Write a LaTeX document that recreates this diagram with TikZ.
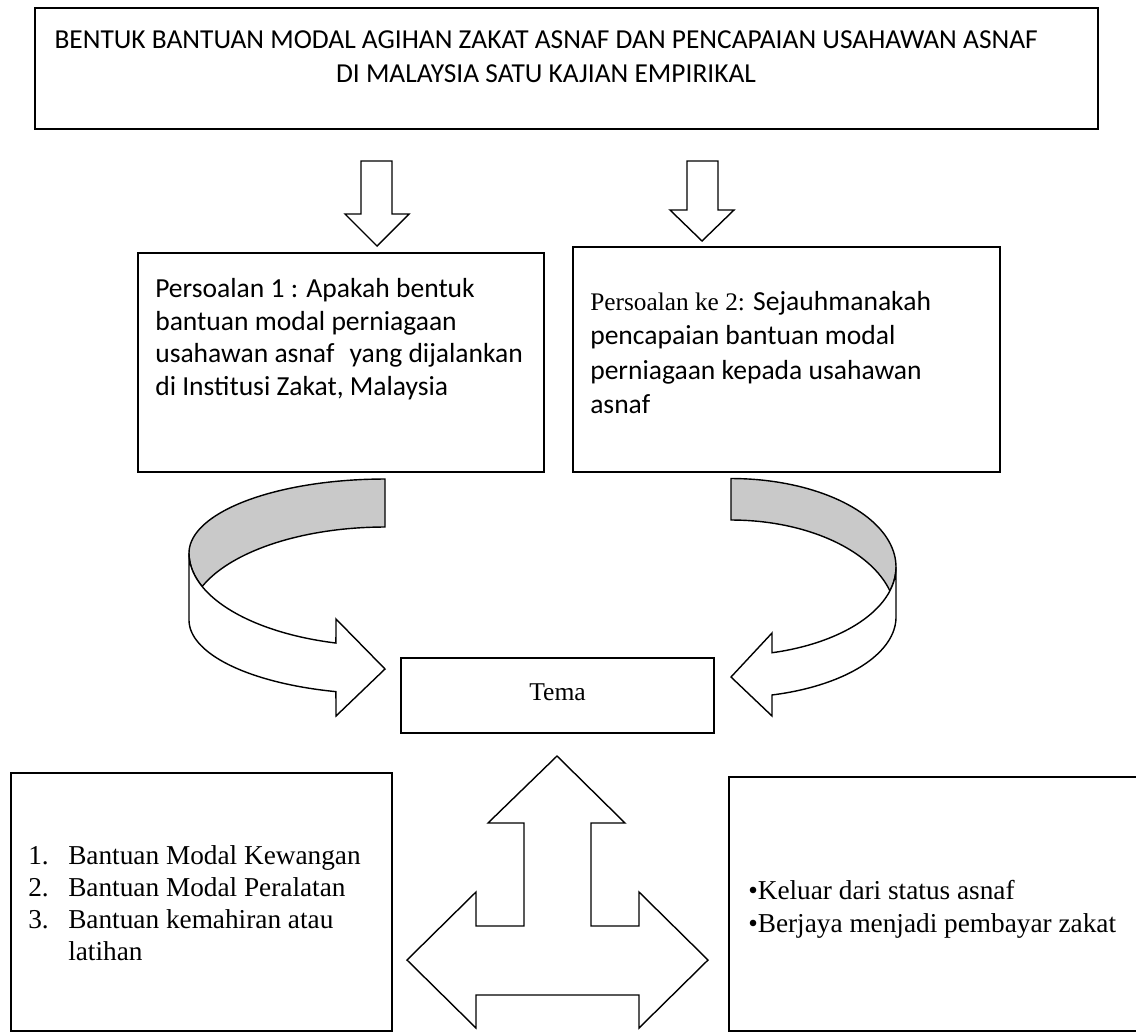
\documentclass[tikz,border=0pt]{standalone}
\usepackage{fontspec}
\setmainfont{Liberation Serif}
\newfontfamily\calibri{Carlito}

\begin{document}
\begin{tikzpicture}[x=0.025cm, y=-0.025cm,
    box/.style={draw, line width=1.4pt},
    blockarrow/.style={draw, fill=white, line width=1pt, line join=miter},
    backside/.style={draw, fill=black!21, line width=1pt},
    sanstext/.style={inner sep=0pt, align=left, anchor=north west,
      font=\calibri\fontsize{19.6}{23.2}\selectfont},
    seriftext/.style={inner sep=0pt, align=left, anchor=north west,
      font=\fontsize{19.4}{23.3}\selectfont}]
    \useasboundingbox (0,0) rectangle (1136,1034);

    \draw [box] (35,8) rectangle (1098,129);
    \draw [box] (138,253) rectangle (544,472);
    \draw [box] (573,247) rectangle (1000,472);
    \draw [box] (401,658) rectangle (714,733);
    \draw [box] (11,773) rectangle (392,1031);
    \draw [box] (729,777) rectangle (1150,1031);

    \node (title) [inner sep=0pt, align=center, anchor=north,
      font=\calibri\fontsize{19.5}{24.2}\selectfont] at (546,30)
      {BENTUK BANTUAN MODAL AGIHAN ZAKAT ASNAF DAN PENCAPAIAN USAHAWAN ASNAF\\
       DI MALAYSIA SATU KAJIAN EMPIRIKAL};
    \node (q1) [sanstext] at (155,278)
      {Persoalan 1 : Apakah bentuk\\ bantuan modal perniagaan\\
       usahawan asnaf\hspace{0.55em}yang dijalankan\\ di Institusi Zakat, Malaysia};
    \node (q2) [sanstext, font=\calibri\fontsize{19.6}{24.5}\selectfont] at (590,291)
      {{\rmfamily\fontsize{18}{24.5}\selectfont Persoalan ke 2:} Sejauhmanakah\\
       pencapaian bantuan modal\\ perniagaan kepada usahawan\\ asnaf};
    \node (tema) [font=\fontsize{18.2}{20}\selectfont] at (557.5,692) {Tema};
    \node (forms) [inner sep=0pt, anchor=north west,
      font=\fontsize{19.4}{22.8}\selectfont] at (28,842)
      {\begin{tabular}{@{}l@{\hspace{13.9pt}}l@{}}
        1. & Bantuan Modal Kewangan\\
        2. & Bantuan Modal Peralatan\\
        3. & Bantuan kemahiran atau\\
           & latihan
       \end{tabular}};
    \node (result) [seriftext] at (748,880)
      {\textbullet Keluar dari status asnaf\\ \textbullet Berjaya menjadi pembayar zakat};

    \draw [blockarrow] (361,161) -- (392,161) -- (392,214) -- (409,214)
      -- (377,246) -- (345,214) -- (361,214) -- cycle;
    \draw [blockarrow] (687,161) -- (718,161) -- (718,210) -- (734,210)
      -- (702,241) -- (670,210) -- (687,210) -- cycle;

    \draw [backside] plot [domain=270:180, samples=40] ({385+196*cos(\x)}, {553+74*sin(\x)})
      -- plot [domain=180:158.9, samples=15] ({385+196*cos(\x)}, {553+93*sin(\x)})
      -- plot [domain=201.1:270, samples=40] ({385+196*cos(\x)}, {620+93*sin(\x)}) -- cycle;
    \draw [blockarrow] plot [domain=180:104.5, samples=50] ({385+196*cos(\x)}, {553+93*sin(\x)})
      -- (336,619) -- (385,669) -- (336,716)
      -- plot [domain=104.5:180, samples=50] ({385+196*cos(\x)}, {620+74*sin(\x)}) -- cycle;

    \draw [backside] plot [domain=270:375.6, samples=50] ({731+165*cos(\x)}, {567+88.5*sin(\x)})
      -- plot [domain=344.4:270, samples=40] ({731+165*cos(\x)}, {617+97*sin(\x)}) -- cycle;
    \draw [blockarrow] plot [domain=0:75.6, samples=50] ({731+165*cos(\x)}, {567+88.5*sin(\x)})
      -- (772,633) -- (731,677) -- (772,716)
      -- plot [domain=75.6:0, samples=50] ({731+165*cos(\x)}, {617+80.5*sin(\x)}) -- cycle;

    \draw [blockarrow] (557,756) -- (625,823) -- (591,823) -- (591,926) -- (639,926)
      -- (639,892) -- (708,960) -- (639,1028) -- (639,995) -- (476,995) -- (476,1028)
      -- (407,960) -- (476,892) -- (476,926) -- (524,926) -- (524,823) -- (488,823) -- cycle;
\end{tikzpicture}
\end{document}
